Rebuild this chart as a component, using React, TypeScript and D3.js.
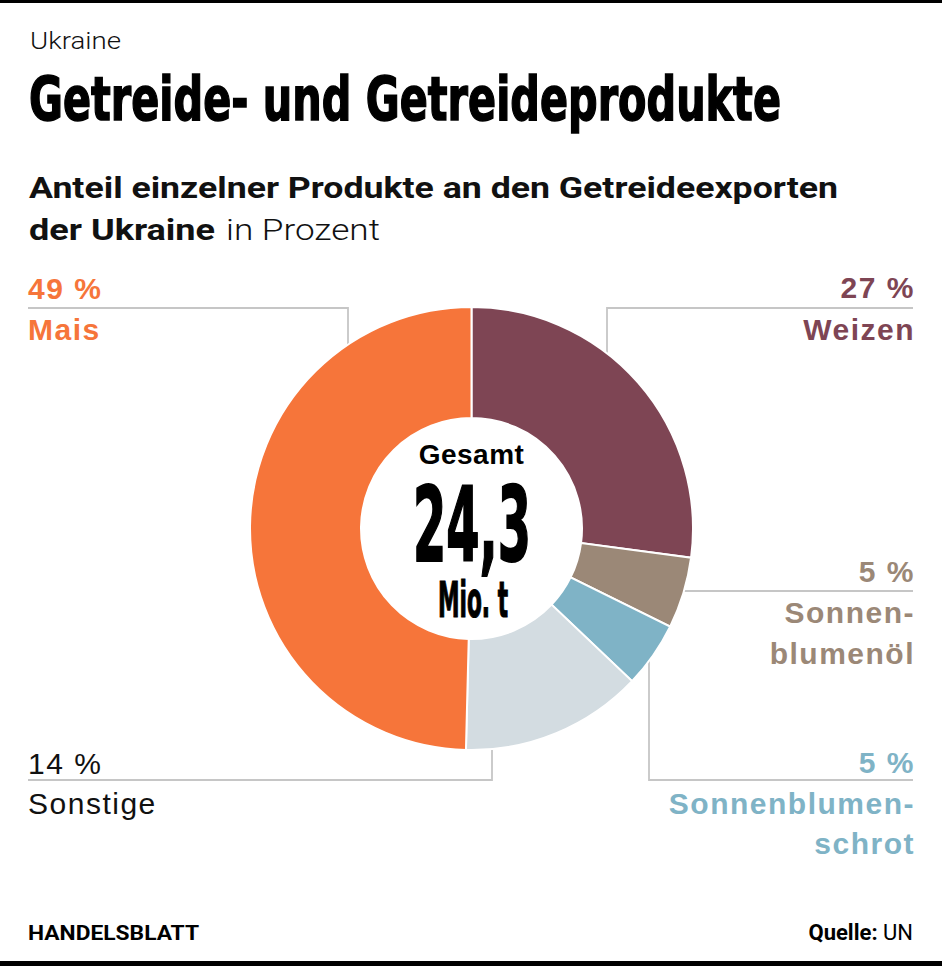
import React from "react";
import * as d3 from "d3";

const categories = ["Weizen", "Sonnenblumenöl", "Sonnenblumenschrot", "Sonstige", "Mais"];
const shares = [27.1, 5.2, 4.8, 13.3, 49.6];
const percentLabels = ["27 %", "5 %", "5 %", "14 %", "49 %"];
const nameLines = [["Weizen"], ["Sonnen-", "blumenöl"], ["Sonnenblumen-", "schrot"], ["Sonstige"], ["Mais"]];
const sliceColors = ["#7e4554", "#9b8877", "#7fb3c6", "#d3dce1", "#f6753a"];
const labelColors = ["#7e4554", "#9b8877", "#7fb3c6", "#111111", "#f6753a"];
const totalValue = "24,3";
const totalUnit = "Mio. t";

const W = 942;
const H = 966;
const cx = 471.5;
const cy = 528.5;
const R = 221.5;
const r0 = 110.5;

const COND = "'Liberation Sans Narrow', 'DejaVu Sans Condensed', 'Roboto', sans-serif";
const SANS = "'Liberation Sans', Arial, sans-serif";
const ROBO = "Roboto, 'Liberation Sans', sans-serif";
const LINE = "#c6c6c6";

type Lay = {
  anchor: "start" | "end";
  x: number;
  pctY: number;
  nameY: number[];
  light?: boolean;
  leader: (arcY: (x: number, side: 1 | -1) => number, arcX: (y: number) => number) => string;
};

const arcTopY = (x: number, side: 1 | -1) => cy + side * Math.sqrt(R * R - (x - cx) * (x - cx));
const arcRightX = (y: number) => cx + Math.sqrt(R * R - (y - cy) * (y - cy));

const layouts: Lay[] = [
  {
    anchor: "end", x: 913, pctY: 298, nameY: [340],
    leader: (ay) => `M913,308H607V${ay(607, -1)}`,
  },
  {
    anchor: "end", x: 913, pctY: 582, nameY: [623, 664],
    leader: (_ay, ax) => `M${ax(591)},591H913`,
  },
  {
    anchor: "end", x: 913, pctY: 773, nameY: [814, 854],
    leader: (ay) => `M913,780H649V${ay(649, 1)}`,
  },
  {
    anchor: "start", x: 28, pctY: 774, nameY: [814], light: true,
    leader: (ay) => `M28,780H492V${ay(492, 1)}`,
  },
  {
    anchor: "start", x: 28, pctY: 299, nameY: [340],
    leader: (ay) => `M28,308H348V${ay(348, -1)}`,
  },
];

export default function App() {
  const data = categories.map((c, i) => ({ name: c, value: shares[i], i }));
  const pie = d3.pie<any>().sort(null).value((d: any) => d.value).startAngle(0).endAngle(2 * Math.PI);
  const arcs = pie(data);
  const arcGen = d3.arc<any>().innerRadius(r0).outerRadius(R);

  return (
    <svg
      width={W}
      height={H}
      viewBox={`0 0 ${W} ${H}`}
      style={{ position: "absolute", left: 0, top: 0, display: "block", background: "#fff" }}
    >
      <rect x={0} y={0} width={W} height={H} fill="#fff" />
      <rect x={0} y={0} width={W} height={3} fill="#000" />
      <rect x={0} y={961} width={W} height={5} fill="#000" />

      <text x={30} y={49} fontFamily={ROBO} fontWeight={300} fontSize={23} fill="#111" textLength={91} lengthAdjust="spacingAndGlyphs">
        Ukraine
      </text>
      <text x={29} y={120} fontFamily={COND} fontWeight={700} fontSize={61} fill="#000" stroke="#000" strokeWidth={1.5}
        textLength={752} lengthAdjust="spacingAndGlyphs">
        Getreide- und Getreideprodukte
      </text>

      <text x={29} y={198} fontFamily={ROBO} fontWeight={700} fontSize={29.5} fill="#111" textLength={809} lengthAdjust="spacingAndGlyphs">
        Anteil einzelner Produkte an den Getreideexporten
      </text>
      <text x={29} y={240} fontFamily={ROBO} fontWeight={700} fontSize={29.5} fill="#111" textLength={186} lengthAdjust="spacingAndGlyphs">
        der Ukraine
      </text>
      <text x={226} y={240} fontFamily={ROBO} fontWeight={300} fontSize={29.5} fill="#111" textLength={154} lengthAdjust="spacingAndGlyphs">
        in Prozent
      </text>

      {layouts.map((l, i) => (
        <path key={"ld" + i} d={l.leader(arcTopY, arcRightX)} fill="none" stroke={LINE} strokeWidth={1.8} />
      ))}

      <g transform={`translate(${cx},${cy})`}>
        {arcs.map((a, i) => (
          <path key={i} d={arcGen(a) as string} fill={sliceColors[i]} stroke="#fff" strokeWidth={2} />
        ))}
      </g>

      <text x={cx} y={464} textAnchor="middle" fontFamily={SANS} fontWeight={700} fontSize={28} fill="#000" letterSpacing={0.5}>
        Gesamt
      </text>
      <text x={472} y={561} textAnchor="middle" fontFamily={COND} fontWeight={700} fontSize={104} fill="#000" stroke="#000" strokeWidth={2}
        textLength={118} lengthAdjust="spacingAndGlyphs">
        {totalValue}
      </text>
      <text x={473} y={617} textAnchor="middle" fontFamily={COND} fontWeight={700} fontSize={50} fill="#000" stroke="#000" strokeWidth={1.2}
        textLength={70} lengthAdjust="spacingAndGlyphs">
        {totalUnit}
      </text>

      {layouts.map((l, i) => {
        const dx = l.anchor === "end" ? 2 : 0;
        return (
          <g key={"lb" + i} fill={labelColors[i]} fontFamily={SANS} fontWeight={l.light ? 400 : 700} fontSize={30} letterSpacing={1.5} textAnchor={l.anchor}>
            <text x={l.x + dx} y={l.pctY}>{percentLabels[i]}</text>
            {nameLines[i].map((t, j) => (
              <text key={j} x={l.x + dx} y={l.nameY[j]}>{t}</text>
            ))}
          </g>
        );
      })}

      <text x={28} y={940} fontFamily={ROBO} fontWeight={700} fontSize={21} fill="#000" textLength={171} lengthAdjust="spacingAndGlyphs">
        HANDELSBLATT
      </text>
      <text x={913} y={940} textAnchor="end" fontFamily={ROBO} fontSize={22} fill="#000">
        <tspan fontWeight={700}>Quelle:</tspan>
        <tspan fontWeight={400}> UN</tspan>
      </text>
    </svg>
  );
}
